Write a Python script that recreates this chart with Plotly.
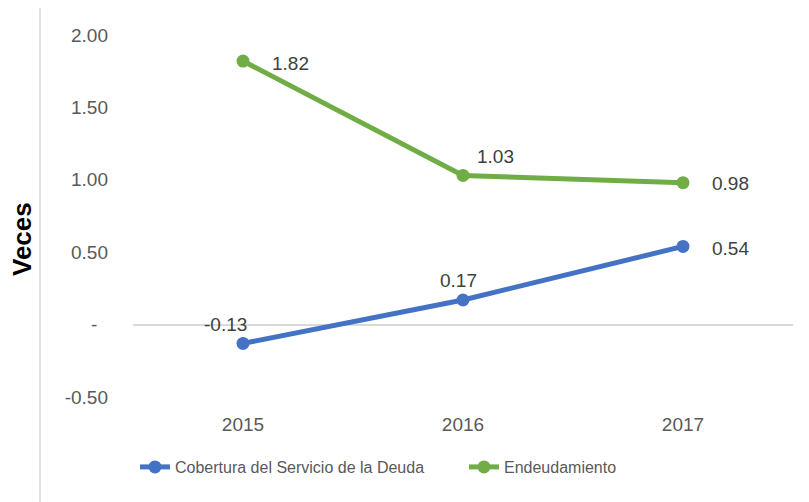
import plotly.graph_objects as go

years = ["2015", "2016", "2017"]
cobertura = [-0.13, 0.17, 0.54]
endeudamiento = [1.82, 1.03, 0.98]
ytick_vals = [-0.5, 0, 0.5, 1.0, 1.5, 2.0]
ytick_text = ["-0.50", "-  ", "0.50", "1.00", "1.50", "2.00"]

blue = "#4472C4"
green = "#70AD47"
font = "Liberation Sans"

fig = go.Figure()
fig.add_trace(go.Scatter(x=years, y=cobertura, mode="lines+markers",
                         name="Cobertura del Servicio de la Deuda",
                         line=dict(color=blue, width=5),
                         marker=dict(color=blue, size=13)))
fig.add_trace(go.Scatter(x=years, y=endeudamiento, mode="lines+markers",
                         name="Endeudamiento",
                         line=dict(color=green, width=5),
                         marker=dict(color=green, size=13)))

# data label offsets (pixels) relative to each point
cob_shift = [(-18, 19), (-5, 19), (47, -2)]
end_shift = [(47, -2), (32, 19), (47, -1)]
ann = []
for ys, sh in ((cobertura, cob_shift), (endeudamiento, end_shift)):
    for i, (y, (dx, dy)) in enumerate(zip(ys, sh)):
        ann.append(dict(x=i, y=y, text=f"{y:.2f}", showarrow=False,
                        xshift=dx, yshift=dy, xanchor="center", yanchor="middle",
                        font=dict(family=font, size=19, color="#404040")))
ann.append(dict(xref="paper", yref="paper", x=(22 - 133) / 660, y=(397 - 239) / 362,
                xanchor="center", yanchor="middle",
                text="<b>Veces</b>", textangle=-90, showarrow=False,
                font=dict(family=font, size=26, color="#000000")))

fig.update_layout(
    width=809, height=502,
    margin=dict(l=125, r=24, t=27, b=113),
    paper_bgcolor="white", plot_bgcolor="white",
    font=dict(family=font, size=19, color="#595959"),
    showlegend=True,
    legend=dict(orientation="h", x=(135 - 133) / 660, xanchor="left",
                y=(397 - 467) / 362, yanchor="middle",
                font=dict(family=font, size=16, color="#595959"),
                entrywidth=284, entrywidthmode="pixels",
                tracegroupgap=0),
    annotations=ann,
    shapes=[dict(type="rect", xref="paper", yref="paper",
                 x0=(40 - 133) / 660, x1=(840 - 133) / 660,
                 y0=-1, y1=(397 - 7) / 362,
                 line=dict(color="#D9D9D9", width=1.5), fillcolor="rgba(0,0,0,0)", layer="below")],
)
fig.update_xaxes(type="category", showgrid=False, showline=False, zeroline=False,
                 ticks="", ticklabelstandoff=14, range=[-0.5, 2.5],
                 tickfont=dict(family=font, size=19, color="#595959"))
fig.update_yaxes(range=[-0.5, 2.0], tickvals=ytick_vals, ticktext=ytick_text,
                 showgrid=False, zeroline=True, zerolinecolor="#D9D9D9", zerolinewidth=2,
                 showline=False, ticks="", ticklabelstandoff=24,
                 tickfont=dict(family=font, size=19, color="#595959"))

fig.write_html("out.html")
